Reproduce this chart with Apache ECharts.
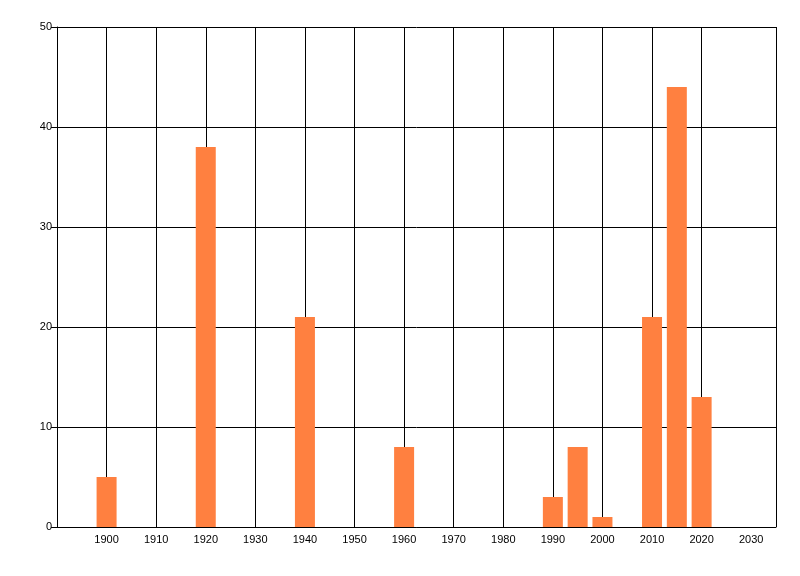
<!DOCTYPE html>
<html>
<head>
<meta charset="utf-8">
<script src="https://cdn.jsdelivr.net/npm/echarts@6/dist/echarts.min.js"></script>
<style>html,body{margin:0;padding:0;background:#fff;}#c{width:800px;height:576px;}</style>
</head>
<body>
<div id="c"></div>
<script>
var years = [1900, 1920, 1940, 1960, 1990, 1995, 2000, 2010, 2015, 2020];
var values = [5, 38, 21, 8, 3, 8, 1, 21, 44, 13];
var xTicks = [1900, 1910, 1920, 1930, 1940, 1950, 1960, 1970, 1980, 1990, 2000, 2010, 2020, 2030];
var yTicks = [0, 10, 20, 30, 40, 50];

var chart = echarts.init(document.getElementById('c'));
var font = 'Liberation Sans, Arial, sans-serif';
var lineColors = [];
for (var i = 0; i < 15; i++) lineColors.push(i === 14 ? 'rgba(0,0,0,0)' : '#000');
chart.setOption({
  animation: false,
  grid: {left: 57, top: 27, right: 24, bottom: 49, containLabel: false},
  xAxis: {
    type: 'value', min: 1890, max: 2035, interval: 10,
    axisLine: {show: true, lineStyle: {color: '#000', width: 1}},
    axisTick: {show: false},
    axisLabel: {
      color: '#000', fontSize: 11, fontFamily: font, margin: 7,
      formatter: function (v) { return xTicks.indexOf(v) >= 0 ? String(v) : ''; }
    },
    splitLine: {show: true, lineStyle: {color: lineColors, width: 1}}
  },
  yAxis: {
    type: 'value', min: 0, max: 50, interval: 10,
    axisLine: {show: true, lineStyle: {color: '#000', width: 1}},
    axisTick: {show: true, length: 6, lineStyle: {color: '#000'}},
    axisLabel: {
      color: '#000', fontSize: 11, fontFamily: font, margin: 5,
      formatter: function (v) { return yTicks.indexOf(v) >= 0 ? String(v) : ''; }
    },
    splitLine: {show: true, lineStyle: {color: '#000', width: 1}}
  },
  series: [{
    type: 'bar',
    barWidth: 20,
    itemStyle: {color: '#ff8040'},
    data: years.map(function (y, i) { return [y, values[i]]; })
  }]
});
</script>
</body>
</html>
